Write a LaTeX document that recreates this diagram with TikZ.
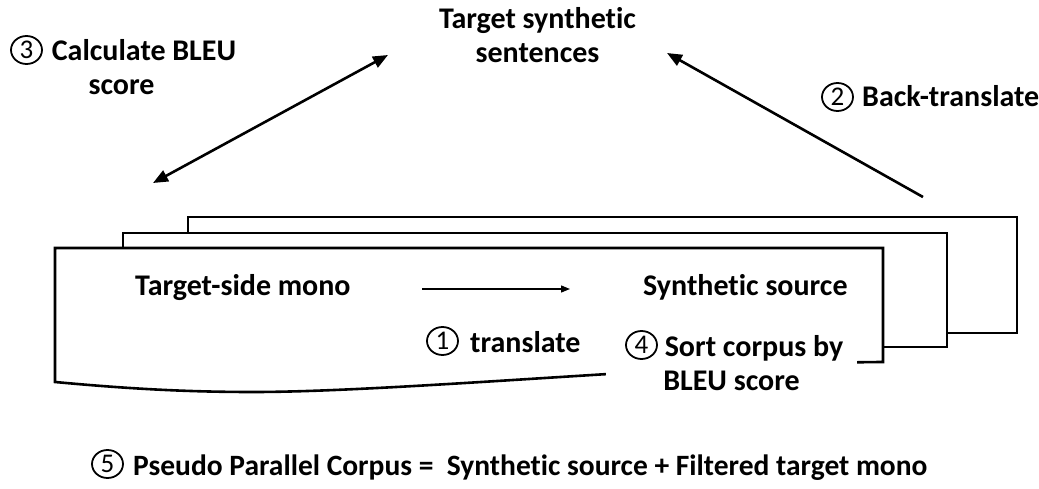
\documentclass[tikz,border=0pt]{standalone}
\usepackage{fontspec}
\setmainfont{Carlito}[Ligatures=NoCommon]
\usetikzlibrary{arrows.meta,shapes.geometric}

\tikzset{
  doc/.style={draw, line width=2.6pt, fill=white, line join=miter},
  lbl/.style={font=\fontsize{30}{34}\selectfont\bfseries, inner sep=0pt},
  stepnum/.style={ellipse, draw, fill=white, line width=1.8pt, minimum width=31pt,
    minimum height=28pt, inner sep=0pt, font=\fontsize{27}{27}\selectfont},
  bigtip/.tip={Triangle[length=15pt,width=12pt]},
  bigarrow/.style={line width=2.6pt},
  thinarrow/.style={line width=1.3pt, -{Triangle[length=9pt,width=7pt]}}
}

\begin{document}
\begin{tikzpicture}[x=1pt,y=-1pt]
\useasboundingbox (0,0) rectangle (1039,489);

% stacked corpus sheets, back to front
\draw[doc] (188,217) rectangle (1017,333);
\draw[doc] (123,233) rectangle (947,347);
\draw[doc] (55,382) -- (55,248) -- (883,248) -- (883,362)
  .. controls (700,363) and (400,392) .. (253,392)
  .. controls (180,392) and (120,388) .. (55,382) -- cycle;

% labels (the leading space in some of them is taken by the step number)
\node[lbl, anchor=base, align=center] (tss) at (537.5,63) {Target synthetic\\sentences};
\node[lbl, anchor=base, align=center] (l3) at (121.5,95) {\hspace*{45pt}Calculate BLEU\\score};
\node[stepnum] (n3) at (26.5,50) {3};
\node[lbl, anchor=base west] (l2) at (862,107) {Back-translate};
\node[stepnum] (n2) at (837.5,97) {2};
\node[lbl, anchor=base west] (tsm) at (135,295) {Target-side mono};
\node[lbl, anchor=base west] (ss) at (643,295) {Synthetic source};
\node[lbl, anchor=base west] (l1) at (470,352) {translate};
\node[stepnum] (n1) at (442.5,341) {1};
\node[lbl, anchor=base, align=center, fill=white, inner xsep=14pt, inner ysep=4pt] (l4) at (731.5,390) {\hspace*{45pt}Sort corpus by\\BLEU score};
\node[stepnum] (n4) at (641.5,345) {4};
\node[lbl, anchor=base west, font=\fontsize{29.5}{34}\selectfont\bfseries] (l5) at (133,475) {Pseudo Parallel Corpus =\ \ Synthetic source + Filtered target mono};
\node[stepnum] (n5) at (107.5,464) {5};

% arrows
\coordinate (a3s) at (153,183);
\coordinate (a3e) at (388,55);
\draw[bigarrow, bigtip-bigtip] (a3s) -- (a3e);
\coordinate (a2s) at (923,197);
\coordinate (a2e) at (667,53);
\draw[bigarrow, -bigtip] (a2s) -- (a2e);
\coordinate (a1s) at (422,289);
\coordinate (a1e) at (570,289);
\draw[thinarrow] (a1s) -- (a1e);
\end{tikzpicture}
\end{document}
